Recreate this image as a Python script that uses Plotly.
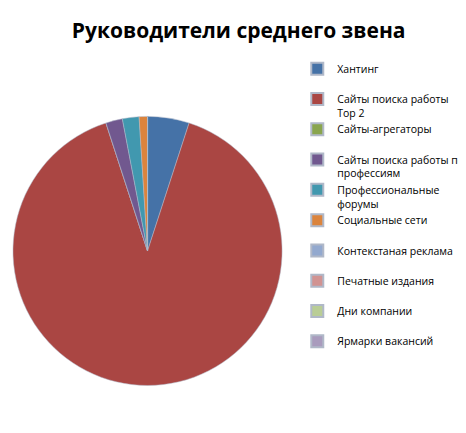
import plotly.graph_objects as go

labels = ["Хантинг", "Сайты поиска работы<br>Top 2", "Сайты-агрегаторы",
          "Сайты поиска работы по<br>профессиям", "Профессиональные<br>форумы", "Социальные сети",
          "Контекстаная реклама", "Печатные издания", "Дни компании", "Ярмарки вакансий"]
values = [5, 90, 0, 2, 2, 1, 0, 0, 0, 0]
colors = ["#4572A7", "#AA4643", "#89A54E", "#71588F", "#4198AF", "#DB843D",
          "#93A9CF", "#D19392", "#B9CD96", "#A99BBD"]

shown = [l if "<br>" in l else l + "<br>&nbsp;" for l in labels]

fig = go.Figure(go.Pie(
    labels=shown, values=values, sort=False, direction="clockwise", rotation=0,
    marker=dict(colors=colors, line=dict(color="#b0b8c8", width=0.5)),
    textinfo="none", hoverinfo="label+value", domain=dict(x=[0.0, 0.62], y=[0.104, 0.771])
))
fig.update_layout(
    width=466, height=433, paper_bgcolor="white", plot_bgcolor="white",
    margin=dict(l=5, r=5, t=5, b=5),
    title=dict(text="<b>Руководители среднего звена</b>", x=0.495, xanchor="center", y=0.965,
               font=dict(family="Open Sans", size=21, color="black")),
    legend=dict(x=0.655, y=0.9, yanchor="top", valign="top",
                font=dict(family="Open Sans", size=10.5, color="black"),
                tracegroupgap=0, itemsizing="constant", traceorder="normal"),
    showlegend=True,
)
fig.write_html("out.html")
